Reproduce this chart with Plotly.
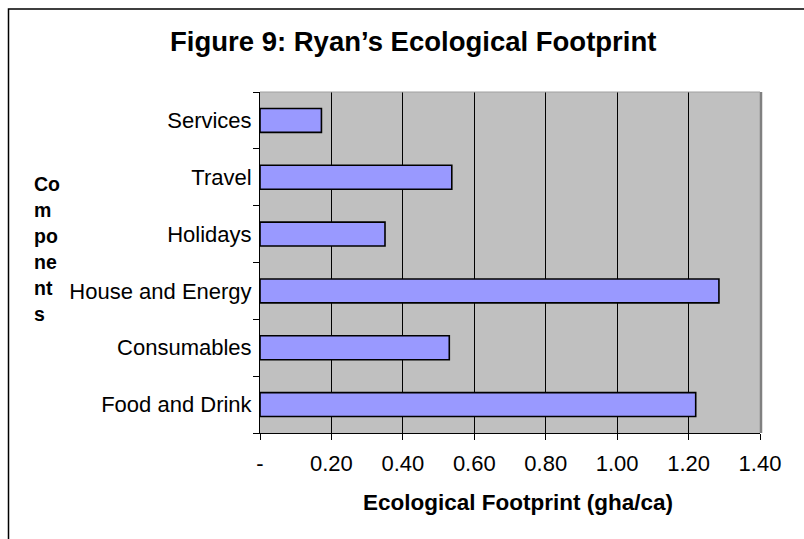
import plotly.graph_objects as go

# Footprint components (bottom to top) and their values in gha/ca
components = ["Food and Drink", "Consumables", "House and Energy", "Holidays", "Travel", "Services"]
footprint = [1.22, 0.53, 1.285, 0.35, 0.537, 0.172]

tick_vals = [0, 0.2, 0.4, 0.6, 0.8, 1.0, 1.2, 1.4]
tick_text = ["-", "0.20", "0.40", "0.60", "0.80", "1.00", "1.20", "1.40"]

# Wrapped y-axis title, one piece per line
y_title_lines = ["Co", "m", "po", "ne", "nt", "s"]

W, H = 804, 539
L, R, T, B = 260, 760, 92, 433  # plot area in pixels


def px_x(x):
    return (x - L) / (R - L)


def px_y(y):
    return (B - y) / (B - T)


FONT = "Liberation Sans, Arial, sans-serif"

fig = go.Figure()
fig.add_trace(go.Bar(
    x=footprint,
    y=components,
    orientation="h",
    width=0.42,
    marker=dict(color="#9999FF", line=dict(color="#000000", width=1.6)),
    hoverinfo="x+y",
))

annotations = [
    dict(text="<b>Figure 9: Ryan’s Ecological Footprint</b>", xref="paper", yref="paper",
         x=px_x(412.5), y=px_y(42), xanchor="center", yanchor="middle",
         showarrow=False, font=dict(size=27.5, family=FONT)),
    dict(text="<b>Ecological Footprint (gha/ca)</b>", xref="paper", yref="paper",
         x=px_x(518), y=px_y(502), xanchor="center", yanchor="middle",
         showarrow=False, font=dict(size=22.5, family=FONT)),
]
for i, line in enumerate(y_title_lines):
    annotations.append(dict(
        text=f"<b>{line}</b>", xref="paper", yref="paper",
        x=px_x(32), y=px_y(184 + 26 * i), xanchor="left", yanchor="middle",
        showarrow=False, font=dict(size=19.5, family=FONT)))

fig.update_layout(
    width=W,
    height=H,
    margin=dict(l=L, r=W - R, t=T, b=H - B, pad=0),
    paper_bgcolor="#FFFFFF",
    plot_bgcolor="#C0C0C0",
    showlegend=False,
    font=dict(family=FONT, color="#000000", size=22),
    xaxis=dict(
        range=[0, 1.4],
        tickvals=tick_vals,
        ticktext=tick_text,
        showgrid=True,
        gridcolor="#000000",
        gridwidth=1,
        zeroline=False,
        showline=True,
        linecolor="#000000",
        linewidth=1,
        ticks="outside",
        ticklen=6,
        tickcolor="#000000",
        tickfont=dict(size=22),
        ticklabelstandoff=5,
        fixedrange=True,
    ),
    yaxis=dict(
        type="category",
        categoryorder="array",
        categoryarray=components,
        showgrid=False,
        zeroline=False,
        showline=True,
        linecolor="#000000",
        linewidth=1,
        ticks="outside",
        tickson="boundaries",
        ticklen=6,
        tickcolor="#000000",
        tickfont=dict(size=22),
        ticklabelstandoff=3,
        fixedrange=True,
    ),
    shapes=[
        # outer chart frame
        dict(type="rect", xref="paper", yref="paper",
             x0=px_x(8.5), y0=px_y(9), x1=px_x(830), y1=px_y(580),
             line=dict(color="#000000", width=1.5), fillcolor="rgba(0,0,0,0)", layer="above"),
        # plot area edge shading
        dict(type="line", xref="paper", yref="paper",
             x0=px_x(761), y0=px_y(B), x1=px_x(761), y1=px_y(T),
             line=dict(color="#808080", width=2.5)),
        dict(type="line", xref="paper", yref="paper",
             x0=px_x(L), y0=px_y(T), x1=px_x(R), y1=px_y(T),
             line=dict(color="#A0A0A0", width=1)),
    ],
    annotations=annotations,
)

fig.write_html("out.html", config={"displayModeBar": False})
